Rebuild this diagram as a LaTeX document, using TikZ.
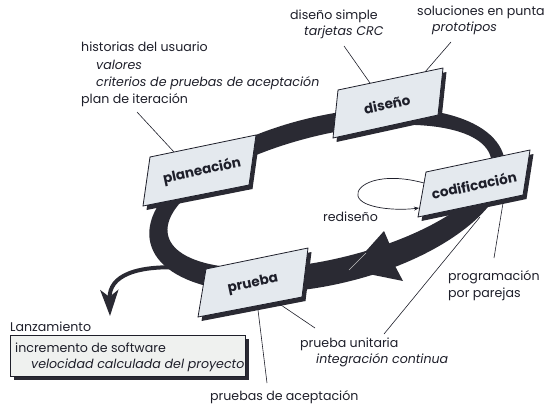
\documentclass[tikz,border=0pt]{standalone}
\usepackage{fontspec}
\setmainfont{Poppins}
\usetikzlibrary{arrows.meta}
\definecolor{ink}{HTML}{1E1F2A}
\definecolor{ringc}{HTML}{2A2A33}
\definecolor{boxfill}{HTML}{E4E9EE}
\definecolor{relfill}{HTML}{EFF1EF}
\begin{document}
\begin{tikzpicture}[x=1pt,y=-1pt,
  txt/.style={anchor=base west, inner sep=0pt, text=ink, font=\fontsize{12.6}{14}\selectfont},
  itxt/.style={anchor=base west, inner sep=0pt, text=ink, font=\fontsize{12.6}{14}\selectfont\itshape},
  lbl/.style={inner sep=0pt, text=ink, font=\fontsize{13.6}{15}\selectfont\bfseries, rotate=12},
  leader/.style={draw=ink, line width=0.6pt},
  shadowfill/.style={fill=ringc},
  procbox/.style={fill=boxfill, draw=ink, line width=0.8pt, line join=miter},
  loopline/.style={draw=ink, line width=0.7pt, -{Stealth[length=5pt,width=4pt]}}]
\useasboundingbox (0,0) rectangle (545,413);
\clip (0,0) rectangle (545,413);

% ---- text ----
\node[txt]  (h1) at (81,51.7) {historias del usuario};
\node[itxt] (h2) at (96,69) {valores};
\node[itxt] (h3) at (96,86) {criterios de pruebas de aceptación};
\node[txt]  (h4) at (81,103) {plan de iteración};
\node[txt]  (d1) at (290,19) {diseño simple};
\node[itxt] (d2) at (304,35) {tarjetas CRC};
\node[txt]  (s1) at (417,15) {soluciones en punta};
\node[itxt] (s2) at (432,31) {prototipos};
\node[txt]  (rd) at (323,221) {rediseño};
\node[txt]  (g1) at (448,280) {programación};
\node[txt]  (g2) at (448,297) {por parejas};
\node[txt]  (u1) at (300,347) {prueba unitaria};
\node[itxt] (u2) at (316,363) {integración continua};
\node[txt]  (a1) at (210,400) {pruebas de aceptación};
\node[txt]  (L)  at (10,331) {Lanzamiento};

% ---- leader coordinates ----
\coordinate (lh) at (137,112);  \coordinate (lhb) at (174,152);
\coordinate (ld) at (344,46);   \coordinate (ldb) at (370,83);
\coordinate (ls) at (451,42);   \coordinate (lsb) at (425,72);
\coordinate (lg) at (494,258);  \coordinate (lgb) at (503,203);
\coordinate (li) at (384,334);  \coordinate (lib) at (480,217);
\coordinate (lu) at (315,328);  \coordinate (lub) at (278,303);
\coordinate (la) at (267,383);  \coordinate (lab) at (258,310);
\draw[leader] (lh) -- (lhb);
\draw[leader] (ld) -- (ldb);
\draw[leader] (ls) -- (lsb);
\draw[leader] (lg) -- (lgb);
\draw[leader] (li) -- (lib);

% ---- ring ----
\fill[ringc, even odd rule, rotate around={13.6:(328,199)}]
  (327,200) ellipse [x radius=182, y radius=84]
  (330,197) ellipse [x radius=166, y radius=62];
% release arrow
\coordinate (rel0) at (190,268);
\coordinate (rel1) at (110,316);
\draw[ringc, line width=4pt, -{Stealth[length=26pt,width=18pt,inset=7pt]}]
  (rel0) .. controls (135,264) and (109,276) .. (rel1);
% big arrowhead on ring
\coordinate (tip) at (349,270);
\fill[ringc] (tip) -- (384,231) -- (390,245) -- (394,264) -- (403,281) -- cycle;
\draw[black!25, line width=0.6pt] (tip) -- (366,253);

% ---- boxes ----
% planeacion
\coordinate (p1) at (150,157); \coordinate (p2) at (256,135);
\coordinate (p3) at (249,185); \coordinate (p4) at (143,206);
\fill[shadowfill] ([shift={(3.5,4)}]p1) -- ([shift={(3.5,4)}]p2) -- ([shift={(3.5,4)}]p3) -- ([shift={(3.5,4)}]p4) -- cycle;
\filldraw[procbox] (p1) -- (p2) -- (p3) -- (p4) -- cycle;
\node[lbl] (plan) at (202,171) {planeación};
% diseno
\coordinate (q1) at (338,90); \coordinate (q2) at (443,68);
\coordinate (q3) at (438,115); \coordinate (q4) at (333,138);
\fill[shadowfill] ([shift={(3.5,4)}]q1) -- ([shift={(3.5,4)}]q2) -- ([shift={(3.5,4)}]q3) -- ([shift={(3.5,4)}]q4) -- cycle;
\filldraw[procbox] (q1) -- (q2) -- (q3) -- (q4) -- cycle;
\node[lbl] (dis) at (387,104) {diseño};
% codificacion
\coordinate (c1) at (426,172); \coordinate (c2) at (530,150);
\coordinate (c3) at (523,195); \coordinate (c4) at (418,217);
\fill[shadowfill] ([shift={(3.5,4)}]c1) -- ([shift={(3.5,4)}]c2) -- ([shift={(3.5,4)}]c3) -- ([shift={(3.5,4)}]c4) -- cycle;
\filldraw[procbox] (c1) -- (c2) -- (c3) -- (c4) -- cycle;
\node[lbl] (cod) at (474,185) {codificación};
% prueba
\coordinate (r1) at (206,269); \coordinate (r2) at (308,248);
\coordinate (r3) at (302,297); \coordinate (r4) at (198,317);
\fill[shadowfill] ([shift={(3.5,4)}]r1) -- ([shift={(3.5,4)}]r2) -- ([shift={(3.5,4)}]r3) -- ([shift={(3.5,4)}]r4) -- cycle;
\filldraw[procbox] (r1) -- (r2) -- (r3) -- (r4) -- cycle;
\node[lbl] (pru) at (253,284) {prueba};

\draw[leader] (lu) -- (lub);
\draw[leader] (la) -- (lab);

% rediseno loop
\coordinate (lp0) at (424,183);
\coordinate (lpm) at (358,196);
\coordinate (lp1) at (419,208);
\draw[loopline] (lp0) .. controls (380,171) and (355,185) .. (lpm)
  .. controls (361,208) and (395,211) .. (lp1);

% ---- release box ----
\fill[ringc] (14,339) rectangle (249,380);
\filldraw[fill=relfill, draw=ink, line width=0.8pt] (10,335) rectangle (245,376);
\node[txt]  (i1) at (15,352) {incremento de software};
\node[itxt] (i2) at (31,368) {velocidad calculada del proyecto};
\end{tikzpicture}
\end{document}
